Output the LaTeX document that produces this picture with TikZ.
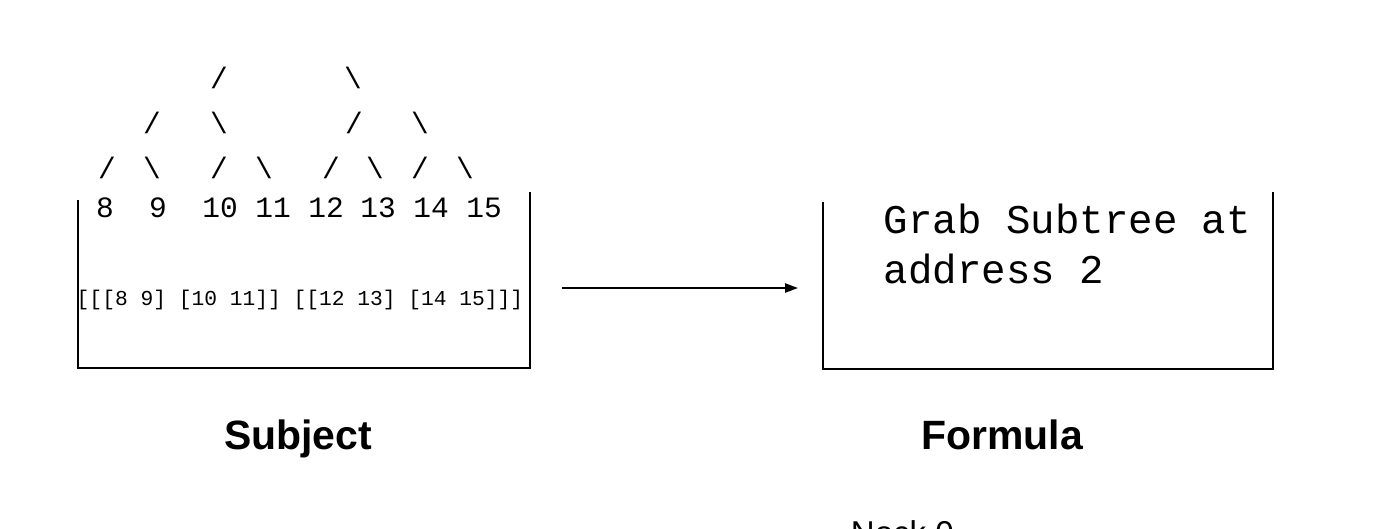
\documentclass[tikz,border=0pt]{standalone}
\usepackage{fontspec}
\setmainfont{Liberation Sans}
\setmonofont{Liberation Mono}
\usetikzlibrary{positioning, arrows.meta}

\begin{document}
\begin{tikzpicture}[x=0.02cm,y=-0.02cm,line width=1.1pt,
		slash/.style={inner sep=0pt,font=\fontsize{16.8}{16.8}\selectfont\ttfamily},
		leaf/.style={inner sep=0pt,anchor=base,font=\fontsize{16.8}{16.8}\selectfont\ttfamily},
		rule/.style={inner sep=0pt,anchor=base west,font=\fontsize{23.2}{23.2}\selectfont\ttfamily},
		caption/.style={inner sep=0pt,anchor=base,font=\fontsize{23.3}{23.3}\selectfont\bfseries}]
	\useasboundingbox (0,0) rectangle (1398,528);
	\clip (0,0) rectangle (1398,528);
			% tree of the subject
			\node[slash] (a1) at (219,78)		{/};
			\node[slash] (a2) at (353,78)		{\textbackslash};
			\node[slash] (b1) at (152,123)		{/};
			\node[slash] (b2) at (219,123)		{\textbackslash};
			\node[slash] (b3) at (354,123)		{/};
			\node[slash] (b4) at (420,123)		{\textbackslash};
			\node[slash] (c1) at (107,168)		{/};
			\node[slash] (c2) at (152,168)		{\textbackslash};
			\node[slash] (c3) at (219,168)		{/};
			\node[slash] (c4) at (264,168)		{\textbackslash};
			\node[slash] (c5) at (331,168)		{/};
			\node[slash] (c6) at (375,168)		{\textbackslash};
			\node[slash] (c7) at (420,168)		{/};
			\node[slash] (c8) at (465,168)		{\textbackslash};
			\node[leaf] (n8) at (105,217)		{8};
			\node[leaf] (n9) at (158,217)		{9};
			\node[leaf] (n10) at (220,217)		{10};
			\node[leaf] (n11) at (273,217)		{11};
			\node[leaf] (n12) at (326,217)		{12};
			\node[leaf] (n13) at (378,217)		{13};
			\node[leaf] (n14) at (431,217)		{14};
			\node[leaf] (n15) at (484,217)		{15};
			\node[inner sep=0pt,font=\fontsize{12.1}{12.1}\selectfont\ttfamily] (noun) at (300,300)
				{[[[8 9] [10 11]] [[12 13] [14 15]]]};
			% formula text
			\node[rule] (grab) at (883,233)		{Grab Subtree at};
			\node[rule] (addr) at (883,283)		{address 2};
			% open boxes
			\draw (78,200) -- (78,368) -- (530,368) -- (530,192);
			\draw (823,202) -- (823,369) -- (1273,369) -- (1273,192);
			\coordinate (from) at (562,288);
			\coordinate (to) at (798,288);
			\draw[-{Triangle[length=7.4pt,width=5.2pt]}] (from) -- (to);
			% captions
			\node[caption] (subject) at (298,449)	{Subject};
			\node[caption] (formula) at (1002,449)	{Formula};
			\node[inner sep=0pt,anchor=base west,font=\fontsize{18.8}{18.8}\selectfont] (nock) at (850,544) {Nock 0};
	\end{tikzpicture}
\end{document}
